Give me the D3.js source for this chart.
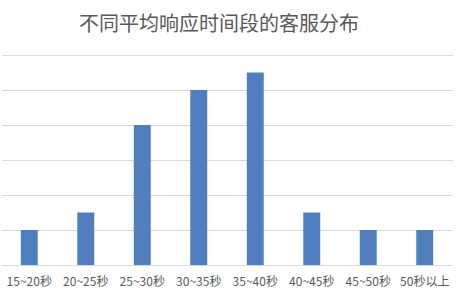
<!DOCTYPE html>
<html>
<head>
<meta charset="utf-8">
<script src="https://cdn.jsdelivr.net/npm/d3@7"></script>
<style>
  body { margin: 0; background: #fff; }
  svg { display: block; }
  .title { font-family: "Noto Sans CJK SC", sans-serif; font-size: 20px; fill: #595959; }
  .tick text { font-family: "Noto Sans CJK SC", sans-serif; font-size: 12px; fill: #595959; }
</style>
</head>
<body>
<div class="chart"></div>
<script>
// data
var categories = ["15~20秒", "20~25秒", "25~30秒", "30~35秒", "35~40秒", "40~45秒", "45~50秒", "50秒以上"];
var counts = [2, 3, 8, 10, 11, 3, 2, 2];
var yTicks = [0, 2, 4, 6, 8, 10, 12];
var titleText = "不同平均响应时间段的客服分布";

var width = 464, height = 296;
var margin = { top: 55, bottom: 31, left: 1, right: 11 };

var svg = d3.select(".chart")
  .append("svg")
  .attr("width", width)
  .attr("height", height);

svg.append("text")
  .attr("class", "title")
  .attr("x", 219)
  .attr("y", 31)
  .attr("text-anchor", "middle")
  .text(titleText);

var g = svg.append("g")
  .attr("transform", "translate(" + margin.left + "," + margin.top + ")");

var w = width - margin.left - margin.right;
var h = height - margin.top - margin.bottom;

var x = d3.scaleBand()
  .domain(categories)
  .range([0, w])
  .paddingInner(0.7)
  .paddingOuter(0.35);

var y = d3.scaleLinear()
  .domain([0, 12])
  .range([h, 0]);

// gridlines
g.append("g")
  .selectAll("line")
  .data(yTicks)
  .enter()
  .append("line")
  .attr("x1", 1)
  .attr("x2", w)
  .attr("y1", d => y(d) + 0.5)
  .attr("y2", d => y(d) + 0.5)
  .attr("stroke", "#d9d9d9")
  .attr("stroke-width", 1);

// bars
g.append("g")
  .selectAll("rect")
  .data(counts)
  .enter()
  .append("rect")
  .attr("x", (d, i) => x(categories[i]))
  .attr("y", d => y(d))
  .attr("width", x.bandwidth())
  .attr("height", d => h - y(d))
  .attr("fill", "#4F7FBF");

// x axis labels
var xAxis = g.append("g")
  .attr("transform", "translate(0," + h + ")")
  .call(d3.axisBottom(x).tickSize(0).tickPadding(12));
xAxis.select(".domain").remove();
</script>
</body>
</html>
